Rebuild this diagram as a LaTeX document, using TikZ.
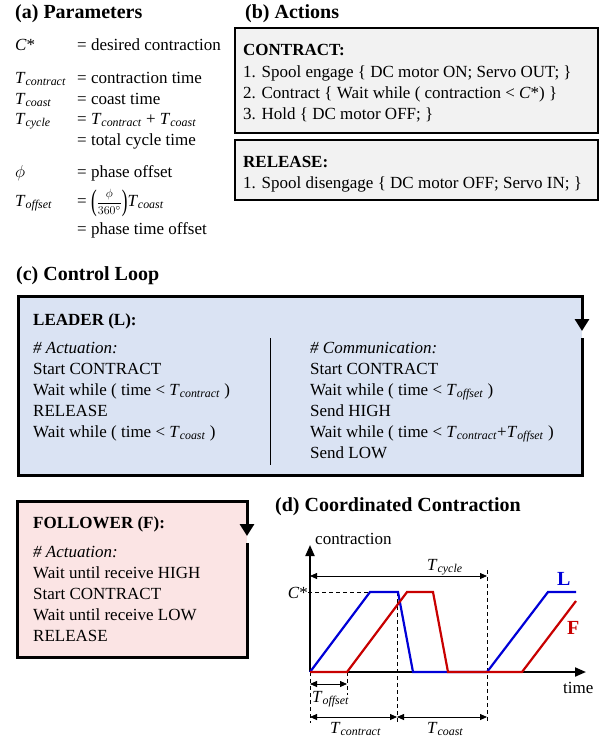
\documentclass[tikz,border=0pt]{standalone}
\usepackage{fontspec}
\setmainfont{Liberation Serif}
\usepackage{amsmath}
\usetikzlibrary{arrows.meta}
\definecolor{leaderfill}{RGB}{218,227,243}
\definecolor{followfill}{RGB}{251,228,228}
\definecolor{actfill}{RGB}{242,242,242}
\definecolor{lblue}{RGB}{0,0,215}
\definecolor{fred}{RGB}{200,0,0}
\newcommand{\Tsub}[1]{\textit{T}\textsubscript{\textit{#1}}}
\newcommand{\bigparen}[1]{\raisebox{-4pt}{\scalebox{1}[1.75]{#1}}}
\newcommand{\phifrac}{\bigparen{(}{\fontsize{13}{15}\selectfont$\dfrac{\phi}{360^\circ}$}\bigparen{)}}

\begin{document}
\begin{tikzpicture}[x=1pt,y=-1pt,
  txt/.style={anchor=base west,inner sep=0pt,font=\fontsize{17}{21}\selectfont},
  ttl/.style={txt,font=\fontsize{20}{24}\selectfont\bfseries},
  hd/.style={txt,font=\fontsize{17}{21}\selectfont\bfseries},
  actbox/.style={draw,fill=actfill,line width=1.5pt},
  boxline/.style={line width=3pt,-{Triangle[length=12pt,width=14pt]}},
  axisline/.style={line width=2pt,-{Triangle[length=11pt,width=9pt]}},
  dimarr/.style={line width=0.8pt,{Triangle[length=7pt,width=6pt]}-{Triangle[length=7pt,width=6pt]}},
  guide/.style={line width=0.8pt,dash pattern=on 4pt off 3pt},
  lcurve/.style={line width=2.2pt,lblue,line join=miter},
  fcurve/.style={line width=2.2pt,fred,line join=miter}]

\useasboundingbox (0,0) rectangle (603,742);

% (a) parameters
\node[ttl] (ta) at (15,18) {(a) Parameters};

\node[txt] (pc) at (15,50) {\textit{C}*};
\node[txt] (pce) at (77,50) {= desired contraction};
\node[txt] (ptc) at (15,83) {\Tsub{contract}};
\node[txt] (ptce) at (77,83) {= contraction time};
\node[txt] (pts) at (15,104) {\Tsub{coast}};
\node[txt] (ptse) at (77,104) {= coast time};
\node[txt] (pty) at (15,124) {\Tsub{cycle}};
\node[txt] (ptye) at (77,124) {= \Tsub{contract} + \Tsub{coast}};
\node[txt] (ptye2) at (77,145) {= total cycle time};
\node[txt] (pphi) at (15,177) {$\phi$};
\node[txt] (pphie) at (77,177) {= phase offset};
\node[txt] (pto) at (15,206) {\Tsub{offset}};
\node[txt] (ptoe) at (77,206) {= \phifrac\Tsub{coast}};
\node[txt] (ptoe2) at (77,234) {= phase time offset};

% (b) actions
\node[ttl] (tb) at (245,18) {(b) Actions};

\draw[actbox] (235,28) rectangle (598,133);
\node[hd] (ct) at (243,55) {CONTRACT:};
\node[txt] (ct1) at (243,77) {1. Spool engage \{ DC motor ON; Servo OUT; \}};
\node[txt] (ct2) at (243,98) {2. Contract \{ Wait while ( contraction < \textit{C}*) \}};
\node[txt] (ct3) at (243,119) {3. Hold \{ DC motor OFF; \}};

\draw[actbox] (235,140) rectangle (598,200);
\node[hd] (rl) at (243,167) {RELEASE:};
\node[txt] (rl1) at (243,188) {1. Spool disengage \{ DC motor OFF; Servo IN; \}};

% (c) control loop
\node[ttl] (tc) at (16,280) {(c) Control Loop};

\fill[leaderfill] (18,296) rectangle (582,475);
\draw[boxline] (582,338) -- (582,475) -- (18,475) -- (18,296) -- (582,296) -- (582,331);
\draw[line width=1pt] (270,338) -- (270,465);

\node[hd] (ld) at (33,325) {LEADER (L):};
\node[txt] (la0) at (33,353) {\textit{\# Actuation:}};
\node[txt] (la1) at (33,374) {Start CONTRACT};
\node[txt] (la2) at (33,395) {Wait while ( time < \Tsub{contract} )};
\node[txt] (la3) at (33,416) {RELEASE};
\node[txt] (la4) at (33,437) {Wait while ( time < \Tsub{coast} )};

\node[txt] (lc0) at (310,353) {\textit{\# Communication:}};
\node[txt] (lc1) at (310,374) {Start CONTRACT};
\node[txt] (lc2) at (310,395) {Wait while ( time < \Tsub{offset} )};
\node[txt] (lc3) at (310,416) {Send HIGH};
\node[txt] (lc4) at (310,437) {Wait while ( time < \Tsub{contract}+\Tsub{offset} )};
\node[txt] (lc5) at (310,458) {Send LOW};

\fill[followfill] (17,501) rectangle (247,657);
\draw[boxline] (247,543) -- (247,657) -- (17,657) -- (17,501) -- (247,501) -- (247,536);

\node[hd] (fl) at (33,528) {FOLLOWER (F):};
\node[txt] (fa0) at (33,557) {\textit{\# Actuation:}};
\node[txt] (fa1) at (33,578) {Wait until receive HIGH};
\node[txt] (fa2) at (33,599) {Start CONTRACT};
\node[txt] (fa3) at (33,620) {Wait until receive LOW};
\node[txt] (fa4) at (33,641) {RELEASE};

% (d) coordinated contraction
\node[ttl] (td) at (275,511) {(d) Coordinated Contraction};

\coordinate (o) at (310,672);
\coordinate (ytip) at (310,545);
\coordinate (xtip) at (586,672);
\draw[axisline] (o) -- (ytip);
\draw[axisline] (o) -- (xtip);

\node[txt] (ylab) at (315,544) {contraction};
\node[txt] (xlab) at (563,693) {time};
\node[txt,anchor=base east] (cstar) at (308,598) {\textit{C}*};

\coordinate (cs0) at (308,592);
\coordinate (cs1) at (370,592);
\draw[guide] (cs0) -- (cs1);

\coordinate (g0) at (310,723);
\coordinate (g1t) at (347,672);
\coordinate (g1) at (347,695);
\coordinate (g2t) at (397,592);
\coordinate (g2) at (397,723);
\coordinate (g3t) at (487,570);
\coordinate (g3) at (487,723);
\draw[guide] (o) -- (g0);
\draw[guide] (g1t) -- (g1);
\draw[guide] (g2t) -- (g2);
\draw[guide] (g3t) -- (g3);

\draw[lcurve] (310,672) -- (370,592) -- (398,592) -- (413,672) -- (487,672) -- (548,592) -- (576,592);
\draw[fcurve] (310,672) -- (347,672) -- (407,592) -- (433,592) -- (448,672) -- (522,672) -- (576,601);

\node[ttl,lblue] (ll) at (557,585) {L};
\node[ttl,fred] (fl2) at (567,634) {F};

\coordinate (dy0) at (310,576);
\coordinate (dy1) at (487,576);
\draw[dimarr] (dy0) -- (dy1);
\node[txt] (lcyc) at (427,570) {\Tsub{cycle}};

\coordinate (do0) at (310,684);
\coordinate (do1) at (347,684);
\draw[dimarr] (do0) -- (do1);
\node[txt] (loff) at (312,702) {\Tsub{offset}};

\coordinate (dc0) at (310,717);
\coordinate (dc1) at (397,717);
\coordinate (dc2) at (487,717);
\draw[dimarr] (dc0) -- (dc1);
\draw[dimarr] (dc1) -- (dc2);
\node[txt] (lcon) at (330,733) {\Tsub{contract}};
\node[txt] (lcoa) at (427,733) {\Tsub{coast}};

\end{tikzpicture}
\end{document}
